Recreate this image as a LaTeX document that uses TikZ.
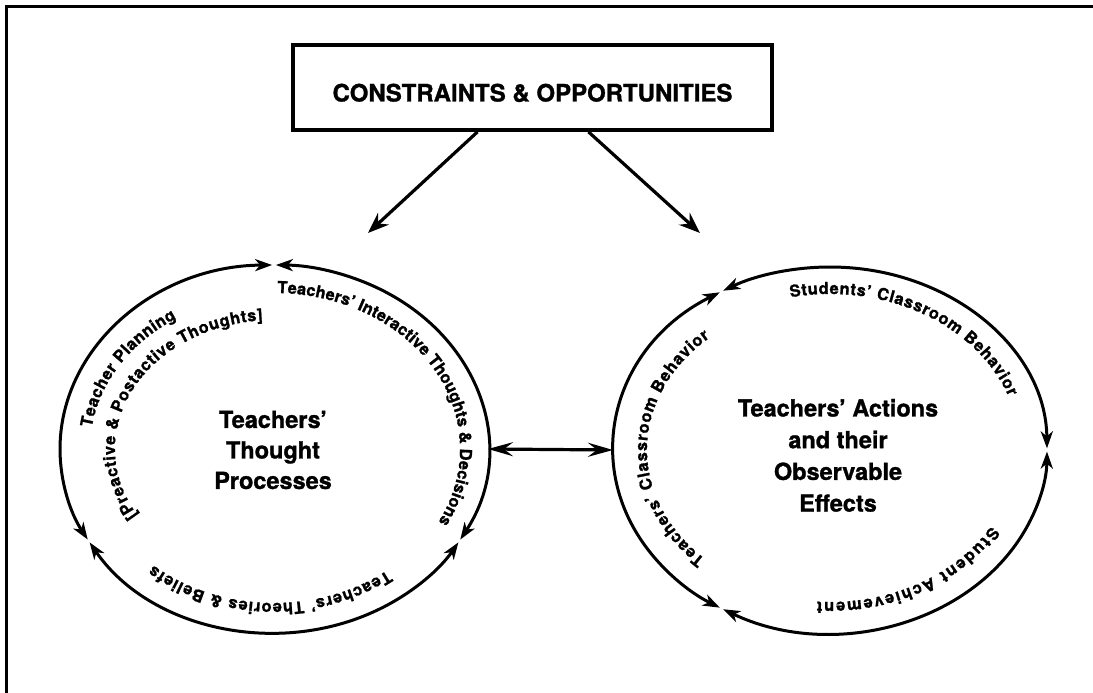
\documentclass[tikz,border=0pt]{standalone}
\usepackage{fontspec}
\setmainfont{TeX Gyre Heros}[BoldFeatures={FakeBold=1.2}]
\usetikzlibrary{arrows.meta,decorations.text,shapes.geometric,calc}
\newcommand\arcfont{\fontsize{16.5}{19}\selectfont\bfseries}
\newcommand\arclabel[6]{%
  \path[decorate,decoration={text along path,text align={fit to path},text={#6}}]
    ([shift={(#4:#2 and #3)}]#1.center) arc[start angle=#4,end angle=#5,x radius=#2,y radius=#3];}
\begin{document}
\begin{tikzpicture}[x=1pt,y=1pt,
  ring/.style={line width=3pt},
  ringtips/.style={ring,{Stealth[length=17pt,width=12pt,inset=5pt]}-{Stealth[length=17pt,width=12pt,inset=5pt]}},
  feed/.style={line width=3.2pt,-{Stealth[length=21pt,width=16pt,inset=7pt]}},
  link/.style={line width=3.2pt,{Stealth[length=25pt,width=14pt,inset=9pt]}-{Stealth[length=25pt,width=14pt,inset=9pt]}},
  hub/.style={ellipse,inner sep=0pt,outer sep=0pt},
  title/.style={draw,line width=3.8pt,minimum width=479pt,minimum height=85pt,inner sep=0pt,text height=28pt,text depth=0pt,font=\fontsize{24}{28}\selectfont\bfseries},
  centre/.style={align=center,inner sep=0pt}
]
\useasboundingbox (0,0) rectangle (1093,693);
\draw[line width=3pt] (6,0) -- (6,686.5) -- (1093,686.5);

\node[title] (box) at (532.5,605.5) {CONSTRAINTS \& OPPORTUNITIES};

\node[hub,minimum width=428pt,minimum height=368pt] (L) at (274,244) {};
\node[hub,minimum width=434pt,minimum height=366pt] (R) at (830,243) {};

% left ring
\draw[ringtips] ([shift={(90.5:214 and 184)}]L.center) arc[start angle=90.5,end angle=209.5,x radius=214,y radius=184];
\draw[ringtips] ([shift={(210.5:214 and 184)}]L.center) arc[start angle=210.5,end angle=329.5,x radius=214,y radius=184];
\draw[ringtips] ([shift={(330.5:214 and 184)}]L.center) arc[start angle=330.5,end angle=449.5,x radius=214,y radius=184];

% right ring
\draw[ringtips] ([shift={(120.5:217 and 183)}]R.center) arc[start angle=120.5,end angle=239.5,x radius=217,y radius=183];
\draw[ringtips] ([shift={(240.5:217 and 183)}]R.center) arc[start angle=240.5,end angle=359.5,x radius=217,y radius=183];
\draw[ringtips] ([shift={(0.5:217 and 183)}]R.center) arc[start angle=0.5,end angle=119.5,x radius=217,y radius=183];

% labels along the left ring
\arclabel{L}{184}{154}{172}{122}{|\arcfont|Teacher Planning}
\arclabel{L}{159}{129}{211}{94}{|\arcfont|{[}Preactive {\&} Postactive Thoughts{]}}
\arclabel{L}{186}{156}{89}{-28}{|\arcfont|Teachers' Interactive Thoughts {\&} Decisions}
\arclabel{L}{184}{154}{308}{229}{|\arcfont|Teachers' Theories {\&} Beliefs}

% labels along the right ring
\arclabel{R}{183}{149}{227}{131}{|\arcfont|Teachers' Classroom Behavior}
\arclabel{R}{190}{156}{102}{20}{|\arcfont|Students' Classroom Behavior}
\arclabel{R}{186}{152}{330}{266}{|\arcfont|Student Achievement}

\node[centre,font=\fontsize{23.5}{30.5}\selectfont\bfseries] (lt) at (273,243) {Teachers'\\Thought\\Processes};
\node[centre,font=\fontsize{23.5}{31.7}\selectfont\bfseries] (rt) at (838,237.6) {Teachers' Actions\\and their\\Observable\\Effects};

\coordinate (ltip) at (368,460);
\coordinate (rtip) at (700,460);
\draw[feed] ($(box.south west)!0.386!(box.south east)$) -- (ltip);
\draw[feed] ($(box.south west)!0.616!(box.south east)$) -- (rtip);

\draw[link] (L.east) -- (R.west);
\end{tikzpicture}
\end{document}
